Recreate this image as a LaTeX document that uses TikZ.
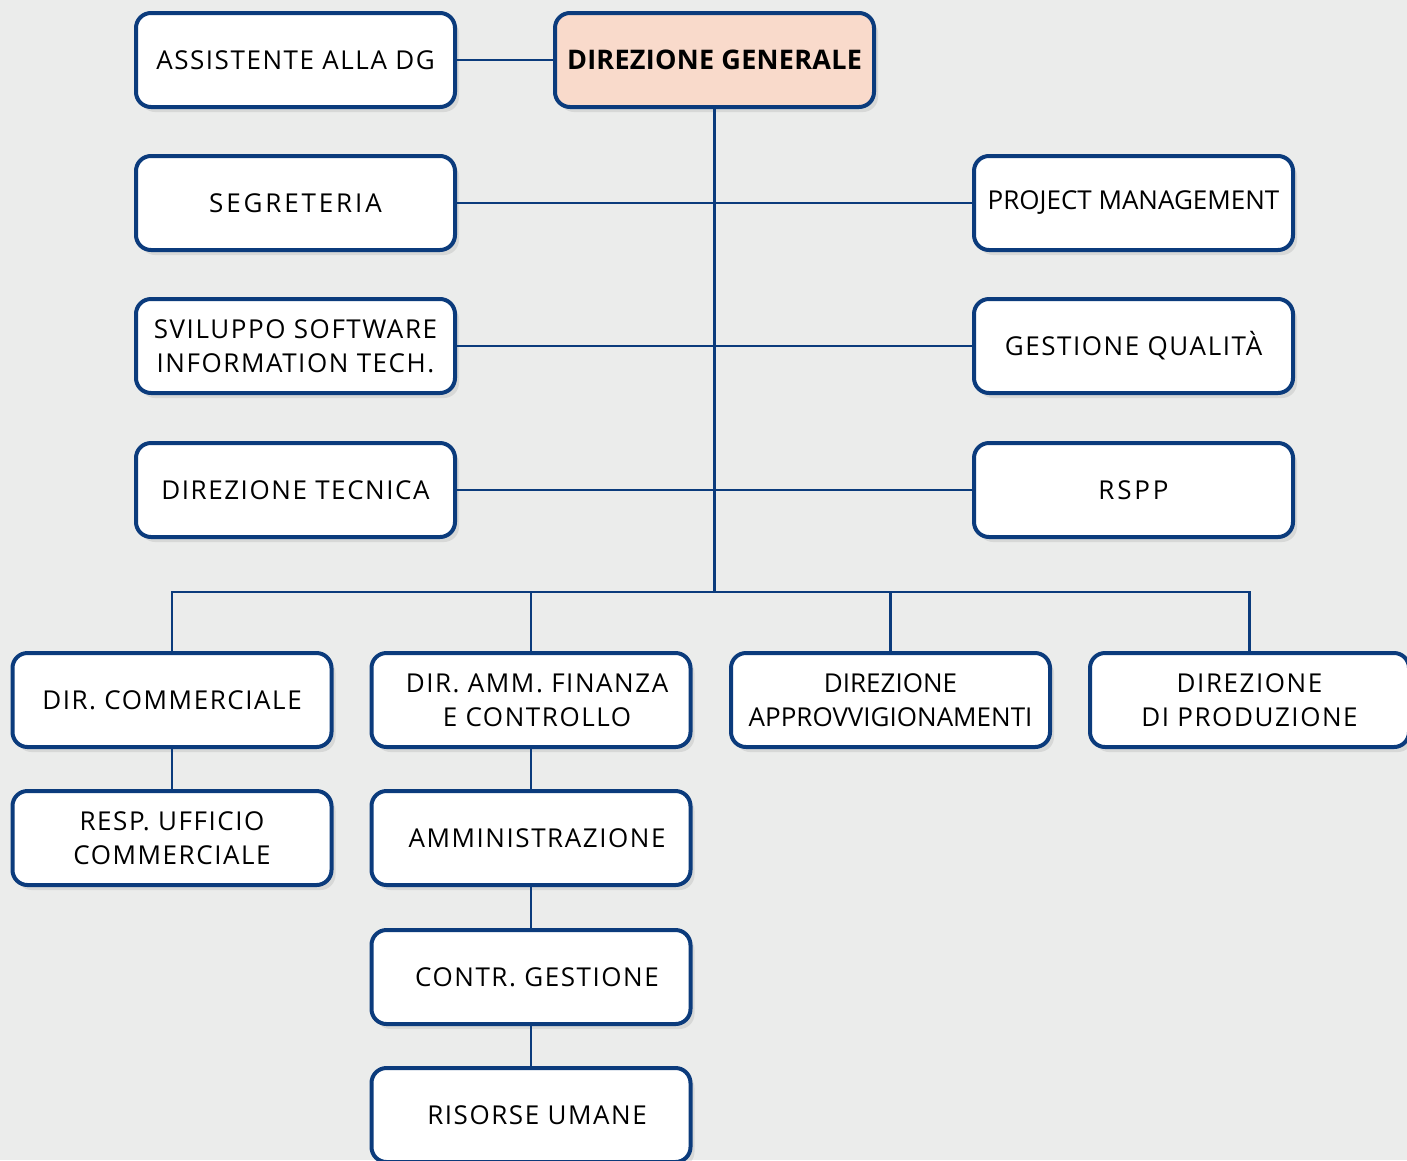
\documentclass[tikz,border=0pt]{standalone}
\usepackage{fontspec}
\setmainfont{Open Sans}
\usetikzlibrary{shadows}
\definecolor{bgcol}{HTML}{EBECEB}
\definecolor{boxline}{HTML}{0B3B7C}
\definecolor{topfill}{HTML}{F9DACB}
\tikzset{
  unit/.style={draw=boxline, line width=4pt, fill=white, rounded corners=15pt,
    minimum width=319pt, minimum height=94pt, align=center, text=black,
    font=\fontsize{26}{34}\selectfont\addfontfeatures{LetterSpace=6},
    drop shadow={opacity=0.18, shadow xshift=4pt, shadow yshift=-5pt}},
  wide/.style={font=\fontsize{26}{34}\selectfont\addfontfeatures{LetterSpace=11}},
  tight/.style={font=\fontsize{26}{34}\selectfont},
  head/.style={unit, fill=topfill, font=\fontsize{27}{34}\selectfont\bfseries\addfontfeatures{LetterSpace=1}},
  link/.style={draw=boxline, line width=2.4pt}
}
\begin{document}
\begin{tikzpicture}[x=1pt,y=-1pt]
% background and frame
\fill[bgcol] (0,0) rectangle (1407,1160);
\useasboundingbox (0,0) rectangle (1407,1160);
% staff around the top
\node[head] (dg) at (714.5,60) {DIREZIONE GENERALE};
\node[unit] (ass) at (295.5,60) {ASSISTENTE ALLA DG};
\node[unit, wide] (seg) at (295.5,203) {SEGRETERIA};
\node[unit] (svi) at (295.5,346) {SVILUPPO SOFTWARE\\INFORMATION TECH.};
\node[unit] (tec) at (295.5,490) {DIREZIONE TECNICA};
\node[unit, tight] (pm)  at (1133.5,203) {PROJECT MANAGEMENT};
\node[unit] (qua) at (1133.5,346) {GESTIONE QUALIT\`A};
\node[unit, wide] (rspp) at (1133.5,490) {RSPP};
% line directions
\node[unit] (com) at (172,700) {DIR. COMMERCIALE};
\node[unit] (fin) at (531,700) {\hspace*{12pt}DIR. AMM. FINANZA\\\hspace*{12pt}E CONTROLLO};
\node[unit, tight] (app) at (890.5,700) {DIREZIONE\\APPROVVIGIONAMENTI};
\node[unit] (pro) at (1249.5,700) {DIREZIONE\\DI PRODUZIONE};
% sub units
\node[unit] (uff) at (172,838) {RESP. UFFICIO\\COMMERCIALE};
\node[unit] (amm) at (531,838) {\hspace*{12pt}AMMINISTRAZIONE};
\node[unit] (ges) at (531,977) {\hspace*{12pt}CONTR. GESTIONE};
\node[unit] (ris) at (531,1115) {\hspace*{12pt}RISORSE UMANE};
% bus coordinates
\coordinate (bus) at (714.5,592);
\coordinate (busL) at (172,592);
\coordinate (busR) at (1249.5,592);
% connectors
\draw[link] (ass) -- (dg);
\draw[link] (dg) -- (bus);
\draw[link] (seg) -- (pm);
\draw[link] (svi) -- (qua);
\draw[link] (tec) -- (rspp);
\draw[link] (com.north) -- (busL) -- (busR) -- (pro.north);
\draw[link] (fin.north) -- (fin.north |- bus);
\draw[link] (app.north) -- (app.north |- bus);
\draw[link] (com) -- (uff);
\draw[link] (fin) -- (amm);
\draw[link] (amm) -- (ges);
\draw[link] (ges) -- (ris);
\end{tikzpicture}
\end{document}
